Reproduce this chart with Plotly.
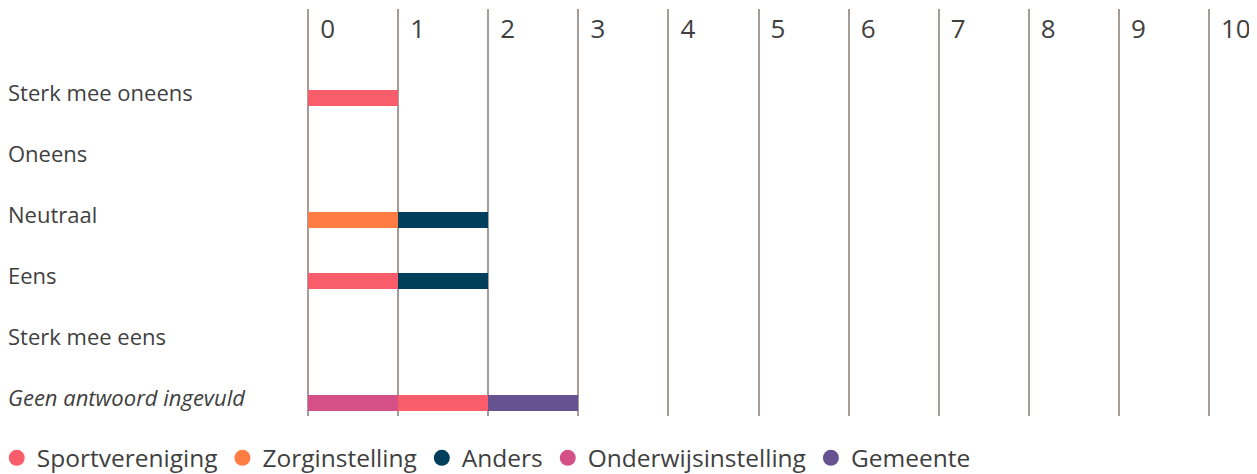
import plotly.graph_objects as go

categories = ["Sterk mee oneens", "Oneens", "Neutraal", "Eens", "Sterk mee eens", "Geen antwoord ingevuld"]
italic_categories = ["Geen antwoord ingevuld"]

legend_order = ["Sportvereniging", "Zorginstelling", "Anders", "Onderwijsinstelling", "Gemeente"]
# stacking order (left to right inside a bar)
stack_order = ["Onderwijsinstelling", "Sportvereniging", "Zorginstelling", "Anders", "Gemeente"]

values = {
    "Sportvereniging":     [1, 0, 0, 1, 0, 1],
    "Zorginstelling":      [0, 0, 1, 0, 0, 0],
    "Anders":              [0, 0, 1, 1, 0, 0],
    "Onderwijsinstelling": [0, 0, 0, 0, 0, 1],
    "Gemeente":            [0, 0, 0, 0, 0, 1],
}
colors = {
    "Sportvereniging": "#f95d6a",
    "Zorginstelling": "#ff7c43",
    "Anders": "#003f5c",
    "Onderwijsinstelling": "#d45087",
    "Gemeente": "#665191",
}
x_ticks = list(range(0, 11))

FONT = "Open Sans"
TEXT = "#3f3f3f"
GRID = "#a29d99"

fig = go.Figure()
for name in stack_order:
    fig.add_trace(go.Bar(
        y=categories, x=values[name], orientation="h", name=name,
        marker=dict(color=colors[name], line=dict(width=0)),
        width=0.262, showlegend=False, hoverinfo="x+name",
    ))
for name in legend_order:
    fig.add_trace(go.Scatter(
        x=[None], y=[None], mode="markers", name=name,
        marker=dict(color=colors[name], size=18, symbol="circle"),
        showlegend=True,
    ))

for cat in categories:
    txt = f"<i>{cat}</i>" if cat in italic_categories else cat
    fig.add_annotation(
        x=0, xref="paper", xshift=-302, xanchor="left",
        y=cat, yref="y", yshift=6, yanchor="middle",
        text=txt, showarrow=False,
        font=dict(family=FONT, size=22, color=TEXT),
    )

# the page body adds an 8px margin, so the figure is 8px smaller than the window
fig.update_layout(
    width=1249, height=466,
    margin=dict(l=300, r=3, t=1, b=58, autoexpand=False),
    paper_bgcolor="white", plot_bgcolor="white",
    barmode="stack", bargap=0,
    font=dict(family=FONT, color=TEXT),
    showlegend=True,
    legend=dict(
        orientation="h", xref="paper", x=-0.3290, xanchor="left",
        yref="paper", y=-0.103, yanchor="middle",
        font=dict(family=FONT, size=24.5, color=TEXT),
        itemsizing="trace", traceorder="normal",
        bgcolor="rgba(0,0,0,0)",
    ),
    xaxis=dict(
        side="top", range=[-0.0015, 10.5], tickvals=x_ticks, ticktext=[str(t) for t in x_ticks],
        showgrid=True, gridcolor=GRID, gridwidth=1.5,
        zeroline=True, zerolinecolor=GRID, zerolinewidth=1.5,
        showline=False, ticks="",
        ticklabelposition="inside right", ticklabelshift=12, ticklabelstandoff=5,
        tickfont=dict(family=FONT, size=26, color=TEXT),
        fixedrange=True,
    ),
    yaxis=dict(
        type="category", categoryorder="array", categoryarray=categories,
        range=[5.213, -1.459], showticklabels=False, showgrid=False,
        zeroline=False, showline=False, ticks="", fixedrange=True,
    ),
)

fig.write_html("out.html")
